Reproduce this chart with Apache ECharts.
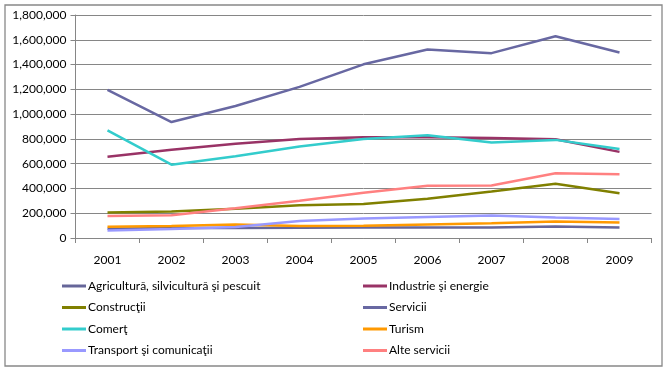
<!DOCTYPE html>
<html><head><meta charset="utf-8">
<script src="https://cdn.jsdelivr.net/npm/echarts@6/dist/echarts.min.js"></script>
<style>html,body{margin:0;padding:0;background:#fff}#c{width:668px;height:372px}</style>
</head><body><div id="c"></div>
<script>
const years = ['2001','2002','2003','2004','2005','2006','2007','2008','2009'];
const agricultura = [74000, 80000, 80000, 82000, 85000, 85000, 85000, 93000, 85000];
const industrie = [655000, 712000, 760000, 800000, 813000, 813000, 808000, 797000, 695000];
const constructii = [205000, 213000, 237000, 264000, 274000, 317000, 376000, 437000, 362000];
const servicii = [1195000, 936000, 1066000, 1220000, 1402000, 1522000, 1492000, 1629000, 1497000];
const comert = [868000, 592000, 660000, 738000, 800000, 829000, 770000, 792000, 719000];
const turism = [90000, 96000, 109000, 96000, 98000, 109000, 120000, 133000, 125000];
const transport = [61000, 72000, 88000, 138000, 157000, 170000, 181000, 165000, 154000];
const alte = [178000, 184000, 240000, 301000, 365000, 421000, 424000, 522000, 514000];

const names = ['Agricultură, silvicultură şi pescuit','Industrie şi energie','Construcţii','Servicii','Comerţ','Turism','Transport şi comunicaţii','Alte servicii'];
const colors = ['#666699','#993366','#808000','#6868a2','#33cccc','#ff9900','#9999ff','#ff8080'];
const values = [agricultura, industrie, constructii, servicii, comert, turism, transport, alte];

const font = 'Lato';
const chart = echarts.init(document.getElementById('c'));
const legendCommon = {
  orient: 'vertical', icon: 'rect', itemWidth: 24, itemHeight: 3, itemGap: 7.5,
  textStyle: {fontFamily: font, fontSize: 12, color: '#000', lineHeight: 14, padding: [0,0,0,-3]},
  selectedMode: false, padding: 0
};
chart.setOption({
  animation: false,
  textStyle: {fontFamily: font},
  graphic: [{type: 'rect', shape: {x: 5, y: 5, width: 657, height: 361}, style: {fill: 'none', stroke: '#888', lineWidth: 1.3}}],
  grid: {left: 75.5, right: 16.5, top: 15, bottom: 134, containLabel: false},
  legend: [
    Object.assign({left: 62, top: 279, data: [names[0], names[2], names[4], names[6]]}, legendCommon),
    Object.assign({left: 363, top: 279, data: [names[1], names[3], names[5], names[7]]}, legendCommon)
  ],
  xAxis: {
    type: 'category', data: years, boundaryGap: true,
    axisLine: {lineStyle: {color: '#868686', width: 1}},
    axisTick: {show: true, length: 5, lineStyle: {color: '#868686'}},
    axisLabel: {fontFamily: font, fontSize: 12, color: '#000', margin: 16}
  },
  yAxis: {
    type: 'value', min: 0, max: 1800000, interval: 200000,
    axisLine: {show: true, lineStyle: {color: '#868686', width: 1}},
    axisTick: {show: true, length: 5, lineStyle: {color: '#868686'}},
    splitLine: {lineStyle: {color: '#868686', width: 1}},
    axisLabel: {fontFamily: font, fontSize: 12, color: '#000', margin: 9,
      formatter: v => v.toLocaleString('en-US')}
  },
  series: names.map((n, i) => ({
    name: n, type: 'line', data: values[i], showSymbol: false, symbol: 'none',
    lineStyle: {color: colors[i], width: 2.5}, itemStyle: {color: colors[i]}
  }))
});
</script></body></html>
